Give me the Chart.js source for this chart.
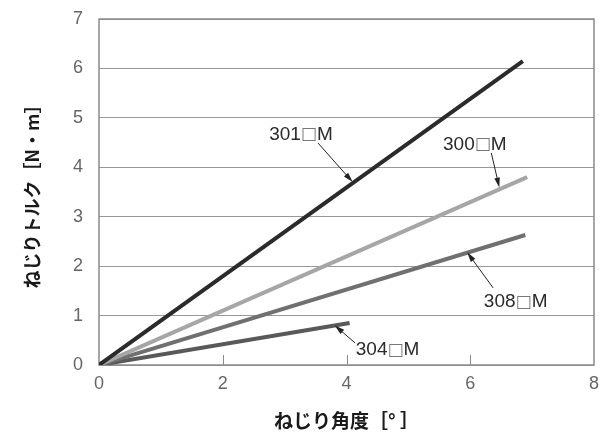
<!DOCTYPE html>
<html>
<head>
<meta charset="utf-8">
<script src="https://cdn.jsdelivr.net/npm/chart.js@4/dist/chart.umd.min.js"></script>
<style>
html,body{margin:0;padding:0;background:#fff;}
#wrap{width:616px;height:439px;}
</style>
</head>
<body>
<div id="wrap"><canvas id="c" width="616" height="439"></canvas></div>
<script>
// Data (twist angle [deg] vs twist torque [N·m])
const seriesNames = ['301□M', '300□M', '308□M', '304□M'];
const angle301 = [0, 6.85];
const torque301 = [0, 6.15];
const angle300 = [0, 6.92];
const torque300 = [0, 3.80];
const angle308 = [0, 6.89];
const torque308 = [0, 2.63];
const angle304 = [0, 4.05];
const torque304 = [0, 0.85];
const xTicks = [0, 2, 4, 6, 8];
const yTicks = [0, 1, 2, 3, 4, 5, 6, 7];

function pts(xs, ys) { return xs.map((x, i) => ({x: x, y: ys[i]})); }

const lineColors = ['#2b2b2b', '#a6a6a6', '#707070', '#595959'];
const dataSets = [
  pts(angle301, torque301),
  pts(angle300, torque300),
  pts(angle308, torque308),
  pts(angle304, torque304)
];

// label annotations: text anchor (data), arrow start (data), arrow end (data)
const annots = [
  {text: seriesNames[0], tx: 2.75, ty: 4.66, ax: 3.54, ay: 4.49, bx: 4.10, by: 3.70},
  {text: seriesNames[1], tx: 5.56, ty: 4.45, ax: 6.34, ay: 4.29, bx: 6.47, by: 3.59},
  {text: seriesNames[2], tx: 6.22, ty: 1.27, ax: 6.37, ay: 1.56, bx: 5.95, by: 2.28},
  {text: seriesNames[3], tx: 4.15, ty: 0.30, ax: 4.14, ay: 0.445, bx: 3.81, by: 0.80}
];

const framePlugin = {
  id: 'frame',
  beforeDatasetsDraw(chart) {
    const ctx = chart.ctx, a = chart.chartArea, xs = chart.scales.x;
    ctx.save();
    ctx.strokeStyle = '#8a8a8a';
    ctx.lineWidth = 1;
    xTicks.forEach(v => {
      if (v === 0 || v === 8) return;
      const px = Math.round(xs.getPixelForValue(v)) + 0.5;
      ctx.beginPath();
      ctx.moveTo(px, a.bottom);
      ctx.lineTo(px, a.bottom - 10);
      ctx.stroke();
    });
    ctx.lineWidth = 1.5;
    ctx.strokeRect(a.left, a.top, a.right - a.left, a.bottom - a.top);
    ctx.restore();
  },
  afterDatasetsDraw(chart) {
    const ctx = chart.ctx, xs = chart.scales.x, ys = chart.scales.y;
    ctx.save();
    annots.forEach(an => {
      const x1 = xs.getPixelForValue(an.ax), y1 = ys.getPixelForValue(an.ay);
      const x2 = xs.getPixelForValue(an.bx), y2 = ys.getPixelForValue(an.by);
      const ang = Math.atan2(y2 - y1, x2 - x1);
      const hl = 10, hw = 2.8;
      ctx.strokeStyle = '#222';
      ctx.fillStyle = '#222';
      ctx.lineWidth = 1;
      ctx.beginPath();
      ctx.moveTo(x1, y1);
      ctx.lineTo(x2 - Math.cos(ang) * hl * 0.8, y2 - Math.sin(ang) * hl * 0.8);
      ctx.stroke();
      ctx.beginPath();
      ctx.moveTo(x2, y2);
      ctx.lineTo(x2 - Math.cos(ang) * hl + Math.sin(ang) * hw, y2 - Math.sin(ang) * hl - Math.cos(ang) * hw);
      ctx.lineTo(x2 - Math.cos(ang) * hl - Math.sin(ang) * hw, y2 - Math.sin(ang) * hl + Math.cos(ang) * hw);
      ctx.closePath();
      ctx.fill();
      // text
      const tx = xs.getPixelForValue(an.tx), ty = ys.getPixelForValue(an.ty);
      const fnt = '19px "Liberation Sans", Arial, sans-serif';
      ctx.font = fnt;
      ctx.textBaseline = 'middle';
      ctx.textAlign = 'left';
      const num = an.text.slice(0, 3), sq = '□', m = 'M';
      ctx.fillStyle = '#2a2a2a';
      ctx.fillText(num, tx, ty);
      let w = ctx.measureText(num).width;
      ctx.font = '17px "DejaVu Sans", sans-serif';
      ctx.fillStyle = '#777';
      ctx.fillText(sq, tx + w, ty);
      w += ctx.measureText(sq).width;
      ctx.font = fnt;
      ctx.fillStyle = '#2a2a2a';
      ctx.fillText(m, tx + w, ty);
    });
    ctx.restore();
  }
};

new Chart(document.getElementById('c'), {
  type: 'scatter',
  data: {
    datasets: dataSets.map((d, i) => ({
      label: seriesNames[i],
      data: d,
      showLine: true,
      borderColor: lineColors[i],
      backgroundColor: lineColors[i],
      borderWidth: 4,
      pointRadius: 0,
      pointHoverRadius: 0,
      tension: 0
    }))
  },
  options: {
    responsive: false,
    animation: false,
    events: [],
    layout: {padding: {left: 0, right: 22, top: 19, bottom: 0}},
    plugins: {legend: {display: false}, tooltip: {enabled: false}},
    scales: {
      x: {
        type: 'linear',
        min: 0, max: 8,
        afterBuildTicks(s) { s.ticks = xTicks.map(v => ({value: v})); },
        afterFit(s) { s.height = 74; s.paddingLeft = 0; s.paddingRight = 0; },
        grid: {display: false, drawTicks: false},
        border: {display: false},
        ticks: {
          padding: 8,
          color: '#666',
          font: {family: '"Liberation Sans", Arial, sans-serif', size: 18}
        },
        title: {
          display: true,
          text: 'ねじり角度［° ］',
          color: '#1a1a1a',
          padding: {top: 0, bottom: 7},
          font: {family: '"Noto Sans CJK JP", sans-serif', size: 19, weight: 'bold'}
        }
      },
      y: {
        type: 'linear',
        min: 0, max: 7,
        afterBuildTicks(s) { s.ticks = yTicks.map(v => ({value: v})); },
        afterFit(s) { s.width = 99; s.paddingTop = 0; s.paddingBottom = 0; },
        grid: {color: '#999', lineWidth: 1, drawTicks: false},
        border: {display: false},
        ticks: {
          padding: 16,
          color: '#666',
          font: {family: '"Liberation Sans", Arial, sans-serif', size: 18}
        },
        title: {
          display: true,
          text: 'ねじりトルク［N・m］',
          color: '#1a1a1a',
          padding: {top: 21, bottom: 0},
          font: {family: '"Noto Sans CJK JP", sans-serif', size: 18, weight: 'bold'}
        }
      }
    }
  },
  plugins: [framePlugin]
});
</script>
</body>
</html>
